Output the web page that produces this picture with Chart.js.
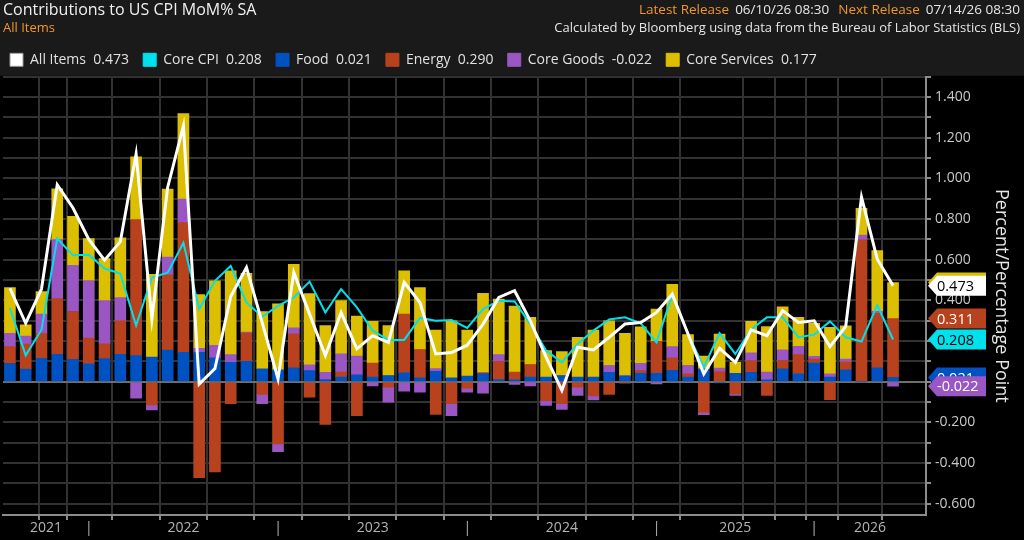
<!DOCTYPE html>
<html><head><meta charset="utf-8">
<script src="https://cdn.jsdelivr.net/npm/chart.js@4.4.1/dist/chart.umd.min.js"></script>
<style>
html,body{margin:0;padding:0;background:#000;}
#wrap{position:relative;width:1024px;height:540px;overflow:hidden;}
canvas{position:absolute;left:0;top:0;}
.hdr{position:absolute;right:4px;font-family:'Open Sans',sans-serif;font-size:13px;color:#e6e6e6;white-space:pre;line-height:16px;}
.hdr span{margin-left:6px;}
.or{color:#f0962d;}
</style></head><body>
<div id="wrap"><canvas id="c" width="1024" height="540"></canvas>
<div class="hdr" style="top:1px;font-size:13.5px"><span class="or">Latest Release</span><span>06/10/26 08:30</span><span class="or" style="margin-left:9px">Next Release</span><span>07/14/26 08:30</span></div>
<div class="hdr" style="top:19px">Calculated by Bloomberg using data from the Bureau of Labor Statistics (BLS)</div>
</div>
<script>
// ---- data ----
const months = ['2021-07','2021-08','2021-09','2021-10','2021-11','2021-12',
 '2022-01','2022-02','2022-03','2022-04','2022-05','2022-06','2022-07','2022-08','2022-09','2022-10','2022-11','2022-12',
 '2023-01','2023-02','2023-03','2023-04','2023-05','2023-06','2023-07','2023-08','2023-09','2023-10','2023-11','2023-12',
 '2024-01','2024-02','2024-03','2024-04','2024-05','2024-06','2024-07','2024-08','2024-09','2024-10','2024-11','2024-12',
 '2025-01','2025-02','2025-03','2025-04','2025-05','2025-06','2025-07','2025-08','2025-09','2025-12',
 '2026-01','2026-02','2026-03','2026-04','2026-05'];
const allItems = [0.460,0.288,0.456,0.969,0.855,0.700,0.598,0.689,1.120,0.309,0.956,1.259,-0.011,0.065,0.420,0.562,0.290,0.015,0.538,0.333,0.129,0.341,0.162,0.227,0.194,0.489,0.390,0.137,0.144,0.180,0.284,0.415,0.448,0.300,0.121,-0.042,0.170,0.157,0.219,0.284,0.292,0.341,0.431,0.235,0.039,0.165,0.096,0.255,0.227,0.350,0.292,0.300,0.173,0.273,0.908,0.603,0.473];
const coreCPI = [0.363,0.130,0.256,0.705,0.622,0.625,0.557,0.533,0.277,0.513,0.537,0.684,0.358,0.497,0.570,0.390,0.320,0.374,0.415,0.493,0.341,0.456,0.366,0.252,0.206,0.206,0.314,0.300,0.304,0.265,0.358,0.399,0.395,0.284,0.154,0.096,0.186,0.252,0.307,0.317,0.288,0.194,0.428,0.235,0.072,0.239,0.137,0.257,0.317,0.317,0.219,0.232,0.297,0.219,0.198,0.377,0.208];
const food = [0.090,0.062,0.116,0.135,0.110,0.088,0.114,0.135,0.129,0.122,0.156,0.145,0.145,0.118,0.096,0.101,0.064,0.059,0.069,0.055,0.011,0.023,0.034,0.023,0.031,0.044,0.020,0.052,0.020,0.028,0.040,0.011,0.010,0.023,0.023,0.031,0.023,0.023,0.047,0.029,0.042,0.042,0.056,0.023,0.064,-0.005,0.042,0.047,0.010,0.064,0.039,0.092,0.023,0.059,0.000,0.069,0.021];
const energy = [0.083,0.123,0.123,0.274,0.236,0.127,0.073,0.165,0.669,-0.114,0.370,0.638,-0.472,-0.443,-0.108,0.139,-0.062,-0.306,0.167,-0.075,-0.209,0.025,-0.167,0.069,-0.026,0.289,0.139,-0.160,-0.108,-0.031,0.005,0.090,0.038,0.062,-0.092,-0.108,-0.026,-0.069,-0.062,-0.007,0.013,0.157,0.062,0.016,-0.149,0.050,-0.059,0.057,-0.067,0.041,0.095,0.020,-0.088,0.038,0.698,0.268,0.290];
const coreGoods = [0.065,0.040,0.094,0.290,0.227,0.283,0.212,0.114,-0.081,-0.024,0.088,0.116,0.020,0.062,0.038,0.005,-0.046,-0.038,0.029,0.029,0.036,0.090,0.093,-0.020,-0.074,-0.046,-0.051,0.013,-0.059,-0.020,-0.056,0.033,-0.013,-0.020,-0.024,-0.028,-0.041,-0.020,0.033,0.000,0.036,-0.010,0.055,0.041,-0.013,0.017,-0.008,0.038,0.038,0.052,0.041,0.013,0.016,0.015,0.023,0.010,-0.022];
const coreServices = [0.225,0.055,0.111,0.250,0.241,0.206,0.207,0.294,0.309,0.407,0.334,0.420,0.264,0.316,0.412,0.289,0.281,0.324,0.313,0.350,0.229,0.261,0.196,0.205,0.245,0.213,0.305,0.190,0.280,0.227,0.390,0.273,0.325,0.232,0.131,0.118,0.196,0.232,0.220,0.210,0.180,0.159,0.307,0.152,0.062,0.168,0.054,0.155,0.224,0.212,0.142,0.163,0.229,0.163,0.132,0.298,0.177];
const yTickValues = [-0.6,-0.5,-0.4,-0.3,-0.2,-0.1,0,0.1,0.2,0.3,0.4,0.5,0.6,0.7,0.8,0.9,1.0,1.1,1.2,1.3,1.4,1.5];
const seriesNames = ['All Items','Core CPI','Food','Energy','Core Goods','Core Services'];

// ---- styling ----
const COL = {all:'#ffffff', core:'#00e1ee', food:'#0052c2', energy:'#b8421d', goods:'#9a56c2', serv:'#dcbf00'};
const X_MIN = -0.44, X_MAX = 58.09;
Chart.defaults.font.family = "'Open Sans', sans-serif";

const n = months.length;
const pts = arr => arr.map((v,i)=>({x:i,y:v}));

// x ticks: quarter-end gridlines, year separators, year labels
const gridIdx = [];
months.forEach((m,i)=>{ const mo = +m.slice(5); if (mo % 3 === 0 || i === n-1) gridIdx.push(i); });
const sepIdx = [];
months.forEach((m,i)=>{ if (i < n-1 && months[i+1].slice(0,4) !== m.slice(0,4)) sepIdx.push(i); });
const years = [...new Set(months.map(m=>m.slice(0,4)))];
const bounds = [X_MIN, ...sepIdx, X_MAX];
const yearCenters = years.map((y,k)=>({v:(bounds[k]+bounds[k+1])/2, label:y}));
const xTickMap = new Map();
gridIdx.forEach(i=>xTickMap.set(i,{grid:true,label: sepIdx.includes(i)?'|':''}));
yearCenters.forEach(o=>{ const e = xTickMap.get(o.v); if (e) e.label=o.label; else xTickMap.set(o.v,{grid:false,label:o.label}); });

const bgPlugin = {
  id:'bg',
  beforeDraw(chart){
    const c = chart.ctx;
    c.save();
    c.fillStyle = '#000'; c.fillRect(0,0,chart.width,chart.height);
    c.fillStyle = '#1a1a1a'; c.fillRect(0,0,chart.width,chart.chartArea.top-1);
    c.restore();
  }
};

const tagPlugin = {
  id:'tags',
  afterDraw(chart){
    const c = chart.ctx, ys = chart.scales.y, L = n-1;
    const x0 = chart.chartArea.right + 2;
    let pos = 0, neg = 0;
    const stackTop = v => { if (v >= 0) { pos += v; return pos; } neg += v; return neg; };
    const tf = stackTop(food[L]), te = stackTop(energy[L]), tg = stackTop(coreGoods[L]), ts = stackTop(coreServices[L]);
    const tags = [
      {v:tf, bg:COL.food, fg:'#ffffff'},
      {v:te, bg:COL.energy, fg:'#ffffff'},
      {v:tg, bg:COL.goods, fg:'#ffffff'},
      {v:ts, bg:COL.serv, fg:'#000000'},
      {v:coreCPI[L], bg:COL.core, fg:'#000000'},
      {v:allItems[L], bg:COL.all, fg:'#000000'}
    ];
    c.save();
    c.font = "14.5px 'Open Sans', sans-serif";
    c.textBaseline = 'middle';
    tags.forEach(t=>{
      const y = ys.getPixelForValue(t.v);
      c.fillStyle = t.bg;
      c.beginPath();
      c.moveTo(x0, y);
      c.lineTo(x0+9, y-10);
      c.lineTo(x0+58, y-10);
      c.lineTo(x0+58, y+10);
      c.lineTo(x0+9, y+10);
      c.closePath();
      c.fill();
      c.fillStyle = t.fg;
      c.fillText(t.v.toFixed(3), x0+9, y+1);
    });
    c.restore();
  }
};

const legendVals = [allItems, coreCPI, food, energy, coreGoods, coreServices].map(a=>a[n-1]);
const legendCols = [COL.all, COL.core, COL.food, COL.energy, COL.goods, COL.serv];

new Chart(document.getElementById('c'), {
  data: {
    datasets: [
      {type:'line', label:seriesNames[0], data:pts(allItems), borderColor:COL.all, backgroundColor:COL.all, borderWidth:3, pointRadius:0, tension:0, stack:'l1'},
      {type:'line', label:seriesNames[1], data:pts(coreCPI), borderColor:COL.core, backgroundColor:COL.core, borderWidth:2, pointRadius:0, tension:0, stack:'l2'},
      {type:'bar', label:seriesNames[2], data:pts(food), backgroundColor:COL.food, stack:'b', barThickness:11},
      {type:'bar', label:seriesNames[3], data:pts(energy), backgroundColor:COL.energy, stack:'b', barThickness:11},
      {type:'bar', label:seriesNames[4], data:pts(coreGoods), backgroundColor:COL.goods, stack:'b', barThickness:11},
      {type:'bar', label:seriesNames[5], data:pts(coreServices), backgroundColor:COL.serv, stack:'b', barThickness:11}
    ]
  },
  options: {
    responsive:false, animation:false, devicePixelRatio:1,
    layout:{padding:{left:3,right:0,top:0,bottom:0}},
    plugins:{
      tooltip:{enabled:false},
      title:{display:true, text:'Contributions to US CPI MoM% SA', align:'start', color:'#f0f0f0', font:{size:16, weight:'normal'}, padding:{top:1,bottom:0}},
      subtitle:{display:true, text:'All Items', align:'start', color:'#f0962d', font:{size:13, weight:'normal'}, padding:{top:0,bottom:10}},
      legend:{display:true, position:'top', align:'start',
        labels:{boxWidth:13, boxHeight:13, padding:7, color:'#e0e0e0', font:{size:14},
          generateLabels: () => seriesNames.map((nm,i)=>({
            text: nm + '  ' + legendVals[i].toFixed(3) + '  ',
            fillStyle: legendCols[i], strokeStyle: i===0?'#9a9a9a':legendCols[i], lineWidth: 1,
            fontColor:'#e0e0e0', hidden:false, datasetIndex:i
          }))
        }
      }
    },
    scales:{
      x:{type:'linear', stacked:true, min:X_MIN, max:X_MAX, offset:false,
        afterBuildTicks: s => { s.ticks = [...xTickMap.keys()].sort((a,b)=>a-b).map(v=>({value:v})); },
        afterFit: s => { s.height = 25; },
        ticks:{autoSkip:false, maxRotation:0, minRotation:0, color:'#b4b4b4', font:{size:14}, padding:0,
          callback: v => (xTickMap.get(v)||{label:''}).label},
        grid:{drawOnChartArea:true, tickLength:5, lineWidth:2,
          color: ctx => (ctx.tick && xTickMap.get(ctx.tick.value) && xTickMap.get(ctx.tick.value).grid) ? '#323232' : 'rgba(0,0,0,0)',
          tickColor: ctx => (ctx.tick && xTickMap.get(ctx.tick.value) && xTickMap.get(ctx.tick.value).grid) ? '#8c8c8c' : 'rgba(0,0,0,0)'},
        border:{display:true, color:'#8c8c8c', width:2}
      },
      y:{type:'linear', position:'right', stacked:true, min:-0.655, max:1.5,
        afterBuildTicks: s => { s.ticks = yTickValues.map(v=>({value:v})); },
        afterFit: s => { s.width = 98; },
        ticks:{color:'#c8c8c8', font:{size:14}, padding:4,
          callback: v => (Math.round(v*10) % 2 === 0) ? v.toFixed(3) : ''},
        grid:{lineWidth:2, tickLength:5,
          color: ctx => (ctx.tick && Math.abs(ctx.tick.value) < 1e-9) ? '#6e6e6e' : '#323232',
          tickColor:'#8c8c8c'},
        border:{display:true, color:'#8c8c8c', width:2},
        title:{display:true, text:'Percent/Percentage Point', color:'#e6e6e6', font:{size:18}, padding:{top:12,bottom:0}}
      }
    }
  },
  plugins:[bgPlugin, tagPlugin]
});
</script>
</body></html>
